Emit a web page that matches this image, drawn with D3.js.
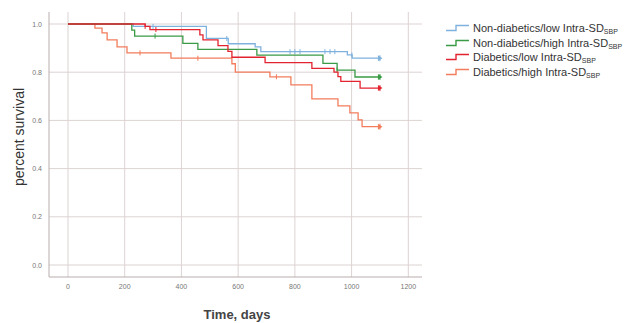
<!DOCTYPE html>
<html><head><meta charset="utf-8">
<script src="https://cdn.jsdelivr.net/npm/d3@7/dist/d3.min.js"></script>
<style>body{margin:0;background:#fff;} svg{display:block;font-family:"Liberation Sans",Arial,sans-serif;}</style>
</head><body>
<svg id="c" width="632" height="323"></svg>
<script>
// ---- data ----
const seriesNames = ["Non-diabetics/low Intra-SD", "Non-diabetics/high Intra-SD", "Diabetics/low Intra-SD", "Diabetics/high Intra-SD"];
const seriesSub = "SBP";
const seriesColors = ["#7fb1de", "#3a9a45", "#e3232f", "#f27c5c"];
const endTime = 1100;
// steps: [time (days), survival after drop]
const blueSteps = [[0,1],[230,0.99],[488,0.94],[565,0.918],[660,0.905],[680,0.885],[985,0.872],[1002,0.858]];
const greenSteps = [[0,1],[225,0.975],[235,0.95],[405,0.92],[458,0.895],[666,0.871],[899,0.837],[949,0.809],[1012,0.78]];
const redSteps = [[0,1],[272,0.99],[289,0.977],[465,0.955],[476,0.934],[529,0.91],[564,0.886],[578,0.862],[695,0.84],[860,0.816],[938,0.80],[952,0.782],[962,0.762],[1030,0.734]];
const orangeSteps = [[0,1],[95,0.983],[120,0.963],[138,0.934],[173,0.905],[208,0.88],[363,0.858],[578,0.835],[590,0.80],[712,0.781],[786,0.747],[860,0.689],[952,0.66],[994,0.631],[1023,0.602],[1037,0.574]];
const blueCensor = [300, 560, 783, 800, 818, 906, 924, 941, 1001];
const greenCensor = [307, 949];
const redCensor = [272, 310];
const orangeCensor = [254, 458, 735];
const xTicks = [0,200,400,600,800,1000,1200];
const yTicks = [0.0,0.2,0.4,0.6,0.8,1.0];

const svg = d3.select("#c");
const x = d3.scaleLinear().domain([0,1200]).range([68,408.3]);
const y = d3.scaleLinear().domain([0,1]).range([265,24]);
const plotL = 49, plotR = 422, plotT = 12, plotB = 277;
const gridColor = "#ddd3d3";

// gridlines
svg.append("g").selectAll("line").data(xTicks).join("line")
  .attr("x1",d=>x(d)).attr("x2",d=>x(d)).attr("y1",plotT).attr("y2",plotB)
  .attr("stroke",gridColor).attr("stroke-width",1);
svg.append("g").selectAll("line").data(yTicks).join("line")
  .attr("x1",plotL).attr("x2",plotR).attr("y1",d=>y(d)).attr("y2",d=>y(d))
  .attr("stroke",gridColor).attr("stroke-width",1);

// axes lines
svg.append("line").attr("x1",plotL).attr("x2",plotL).attr("y1",plotT).attr("y2",plotB).attr("stroke","#b9adad");
svg.append("line").attr("x1",plotL).attr("x2",plotR).attr("y1",plotB).attr("y2",plotB).attr("stroke","#b9adad");

// tick labels
svg.append("g").selectAll("text").data(yTicks).join("text")
  .attr("x",42).attr("y",d=>y(d)+2.5).attr("text-anchor","end")
  .attr("font-size",7).attr("fill","#777").text(d=>d3.format(".1f")(d));
svg.append("g").selectAll("text").data(xTicks).join("text")
  .attr("x",d=>x(d)).attr("y",289).attr("text-anchor","middle")
  .attr("font-size",7).attr("fill","#777").text(d=>d);

// axis titles
svg.append("text").attr("transform","translate(24,137) rotate(-90)")
  .attr("text-anchor","middle").attr("font-size",14).attr("fill","#333").text("percent survival");
svg.append("text").attr("x",237).attr("y",319).attr("text-anchor","middle")
  .attr("font-size",13).attr("font-weight","bold").attr("fill","#444").text("Time, days");

// curves
const allSteps = [blueSteps, greenSteps, redSteps, orangeSteps];
const allCensor = [blueCensor, greenCensor, redCensor, orangeCensor];
function survAt(steps,t){let s=1;for(const [tt,v] of steps){if(tt<=t)s=v;}return s;}
const line = d3.line().x(d=>x(d[0])).y(d=>y(d[1])).curve(d3.curveStepAfter);
// draw order: blue, green, red, orange (orange behind? draw orange first)
[3,0,1,2].forEach(i=>{
  const steps = allSteps[i].concat([[endTime, allSteps[i][allSteps[i].length-1][1]]]);
  const col = seriesColors[i];
  svg.append("path").datum(steps).attr("d",line).attr("fill","none")
    .attr("stroke",col).attr("stroke-width",1.3);
  svg.append("g").selectAll("line").data(allCensor[i]).join("line")
    .attr("x1",d=>x(d)).attr("x2",d=>x(d))
    .attr("y1",d=>y(survAt(allSteps[i],d))-2.5).attr("y2",d=>y(survAt(allSteps[i],d))+2.5)
    .attr("stroke",col).attr("stroke-width",1);
  const ex = x(endTime), ey = y(survAt(allSteps[i],endTime));
  svg.append("path").attr("d",`M${ex-2},${ey-3}L${ex+2.5},${ey}L${ex-2},${ey+3}Z`).attr("fill",col);
  svg.append("line").attr("x1",ex).attr("x2",ex).attr("y1",ey-3).attr("y2",ey+3).attr("stroke",col).attr("stroke-width",1);
});

// legend
const legY = [28,43,57,72];
const lg = svg.append("g");
seriesNames.forEach((n,i)=>{
  const cy = legY[i];
  lg.append("path").attr("d",`M446,${cy+2.5}H456V${cy-2.5}H469`).attr("fill","none")
    .attr("stroke",seriesColors[i]).attr("stroke-width",1.4);
  const t = lg.append("text").attr("x",473).attr("y",cy+4).attr("font-size",11).attr("fill","#333");
  t.append("tspan").text(n);
  t.append("tspan").attr("font-size",7).attr("dy",2).text(seriesSub);
});
</script>
</body></html>
